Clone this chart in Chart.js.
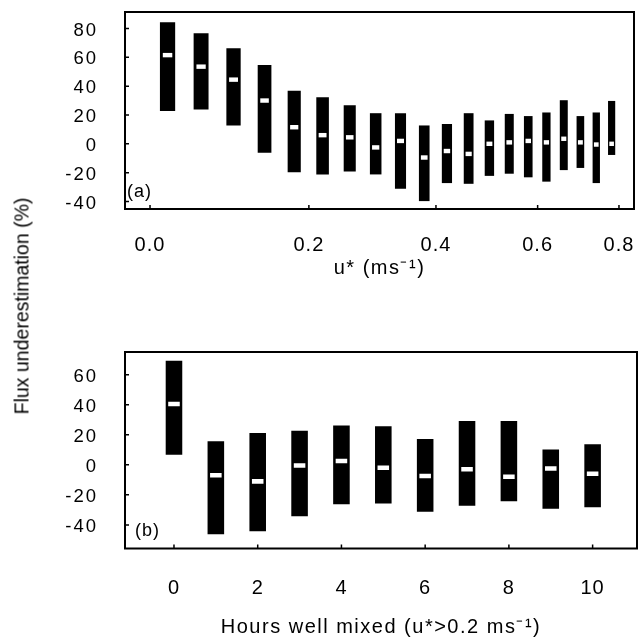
<!DOCTYPE html>
<html>
<head>
<meta charset="utf-8">
<script src="https://cdn.jsdelivr.net/npm/chart.js@4.4.1/dist/chart.umd.min.js"></script>
<style>
body { margin: 0; background: #fff; }
#wrap { position: relative; width: 638px; height: 640px; }
canvas { position: absolute; left: 0; }
#ytitle {
    position: absolute; left: 22px; top: 306px;
    transform: translate(-50%, -50%) rotate(-90deg);
    font: 19.5px "Liberation Sans", Arial, sans-serif;
    white-space: nowrap; color: #000;
}
</style>
</head>
<body>
<div id="wrap">
    <canvas id="chartA" width="638" height="320" style="top:0"></canvas>
    <canvas id="chartB" width="638" height="320" style="top:320px"></canvas>
    <div id="ytitle">Flux underestimation (%)</div>
</div>
<script>
Chart.defaults.font.family = '"Liberation Sans", Arial, sans-serif';
Chart.defaults.color = '#000';

// (a) binned by u*
const uStar = [0.02, 0.06, 0.10, 0.14, 0.18, 0.22, 0.26, 0.30, 0.34, 0.38, 0.42, 0.46, 0.50, 0.54, 0.58, 0.62, 0.66, 0.70, 0.74, 0.78];
const uLow = [23, 24, 13, -6, -19.5, -21, -19, -21, -31, -39.5, -27, -27.5, -22, -20.5, -23, -26, -18, -16.5, -27, -7.5];
const uHigh = [84, 76.5, 66, 54.5, 36.5, 32, 26.5, 21, 21, 12.5, 13.5, 21, 16, 20.5, 19, 21.5, 30, 19, 21.5, 29.5];
const uMedian = [61.5, 53.5, 44.5, 30, 11.5, 6, 4.5, -2.5, 2, -9.5, -5, -7, 0, 1, 2, 1, 3.5, 1, -0.5, 0];
const uTicks = [0, 0.2, 0.4, 0.6, 0.8];
const fluxTicksA = [-40, -20, 0, 20, 40, 60, 80];

// (b) binned by hours well mixed
const hours = [0, 1, 2, 3, 4, 5, 6, 7, 8, 9, 10];
const hLow = [7, -46, -44, -34, -26, -25.5, -31, -27, -24, -29, -28];
const hHigh = [69, 15.5, 21, 22.5, 26, 25.5, 17, 29, 29, 10, 13.5];
const hMedian = [40.5, -7, -11, -0.5, 2.5, -2, -7.5, -3, -8, -2.5, -6];
const hourTicks = [0, 2, 4, 6, 8, 10];
const fluxTicksB = [-40, -20, 0, 20, 40, 60];

const MARK = 1.3; // half height of the white median mark

// linear scale with optional warp (1 - r^v) and letter spacing, the scan is stretched sideways
class WarpedScale extends Chart.LinearScale {
    static id = 'warped';
    static defaults = {};
    _w(v) {
        const r = this.options.warp;
        return r ? 1 - Math.pow(r, v) : v;
    }
    getPixelForValue(v) {
        if (v === null) return NaN;
        const a = this._w(this.min), b = this._w(this.max);
        return this.getPixelForDecimal((this._w(v) - a) / (b - a));
    }
    getValueForPixel(p) {
        const a = this._w(this.min), b = this._w(this.max);
        const w = a + this.getDecimalForPixel(p) * (b - a);
        const r = this.options.warp;
        return r ? Math.log(1 - w) / Math.log(r) : w;
    }
    drawLabels(area) {
        this.ctx.save();
        this.ctx.letterSpacing = (this.options.spacing || 0) + 'px';
        super.drawLabels(area);
        this.ctx.restore();
    }
    drawTitle() {
        this.ctx.save();
        this.ctx.letterSpacing = '1.5px';
        super.drawTitle();
        this.ctx.restore();
    }
}
Chart.register(WarpedScale);

const framePlugin = {
    id: 'frame',
    afterDraw(chart, args, opts) {
        const { ctx, chartArea: a, scales: { x, y } } = chart;
        ctx.save();
        ctx.strokeStyle = '#000';
        ctx.lineWidth = 2;
        ctx.strokeRect(a.left, a.top, a.right - a.left, a.bottom - a.top);
        ctx.lineWidth = 1.5;
        ctx.beginPath();
        x.ticks.forEach(t => {
            const px = x.getPixelForValue(t.value);
            ctx.moveTo(px, a.bottom);
            ctx.lineTo(px, a.bottom - 4);
        });
        y.ticks.forEach(t => {
            const py = y.getPixelForValue(t.value);
            ctx.moveTo(a.left, py);
            ctx.lineTo(a.left + 4, py);
        });
        ctx.stroke();
        ctx.fillStyle = '#000';
        ctx.font = '18px "Liberation Sans", Arial, sans-serif';
        ctx.letterSpacing = '1px';
        ctx.textBaseline = 'alphabetic';
        ctx.fillText(opts.label, a.left + opts.dx, a.bottom - 12.5);
        ctx.restore();
    }
};

const noPad = s => { s.paddingTop = 0; s.paddingBottom = 0; s.paddingLeft = 0; s.paddingRight = 0; };

const rangeSet = (xs, lo, hi, pct) => ({
    data: xs.map((x, i) => ({ x, y: [lo[i], hi[i]] })),
    backgroundColor: '#000',
    borderWidth: 0,
    barThickness: 'flex',
    categoryPercentage: 1,
    barPercentage: pct,
    stack: 's',
    order: 1
});

const medianSet = (xs, med) => ({
    data: xs.map((x, i) => ({ x, y: [med[i] - MARK, med[i] + MARK] })),
    backgroundColor: '#fff',
    borderWidth: 0,
    barThickness: 'flex',
    categoryPercentage: 1,
    barPercentage: 0.26,
    stack: 's',
    order: 0
});

const yAxis = (min, max, tickVals) => ({
    type: 'warped',
    min, max,
    stacked: false,
    spacing: 2,
    grid: { display: false, drawTicks: false },
    border: { display: false },
    afterBuildTicks: s => { s.ticks = tickVals.map(v => ({ value: v })); },
    ticks: { font: { size: 18.5 }, padding: 27, labelOffset: 2 },
    afterFit: s => { s.width = 125; noPad(s); }
});

new Chart('chartA', {
    type: 'bar',
    data: { datasets: [rangeSet(uStar, uLow, uHigh, 0.43), medianSet(uStar, uMedian)] },
    options: {
        responsive: false,
        animation: false,
        layout: { padding: { top: 12, right: 4, left: 0, bottom: 0 } },
        scales: {
            x: {
                type: 'warped',
                warp: 0.32768,
                spacing: 1,
                min: -0.0278, max: 0.8424,
                offset: false,
                grid: { display: false, drawTicks: false },
                border: { display: false },
                afterBuildTicks: s => { s.ticks = uTicks.map(v => ({ value: v })); },
                ticks: { font: { size: 20 }, padding: 24.5, maxRotation: 0, autoSkip: false, callback: v => v.toFixed(1) },
                title: { display: true, text: 'u* (ms⁻¹)', font: { size: 20 }, padding: { top: 0, bottom: 40 } },
                afterFit: s => { s.height = 111; noPad(s); }
            },
            y: yAxis(-45.2, 91.4, fluxTicksA)
        },
        plugins: {
            legend: { display: false },
            tooltip: { enabled: false },
            frame: { label: '(a)', dx: 2 }
        }
    },
    plugins: [framePlugin]
});

new Chart('chartB', {
    type: 'bar',
    data: { datasets: [rangeSet(hours, hLow, hHigh, 0.38), medianSet(hours, hMedian)] },
    options: {
        responsive: false,
        animation: false,
        layout: { padding: { top: 32, right: 1, left: 0, bottom: 0 } },
        scales: {
            x: {
                type: 'warped',
                spacing: 1,
                min: -1.17, max: 11.06,
                offset: false,
                grid: { display: false, drawTicks: false },
                border: { display: false },
                afterBuildTicks: s => { s.ticks = hourTicks.map(v => ({ value: v })); },
                ticks: { font: { size: 20 }, padding: 28, maxRotation: 0, autoSkip: false },
                title: { display: true, text: 'Hours well mixed (u*>0.2 ms⁻¹)', font: { size: 20 }, padding: { top: 0, bottom: 1 } },
                afterFit: s => { s.height = 91.5; noPad(s); }
            },
            y: yAxis(-55.7, 75.1, fluxTicksB)
        },
        plugins: {
            legend: { display: false },
            tooltip: { enabled: false },
            frame: { label: '(b)', dx: 10 }
        }
    },
    plugins: [framePlugin]
});
</script>
</body>
</html>
